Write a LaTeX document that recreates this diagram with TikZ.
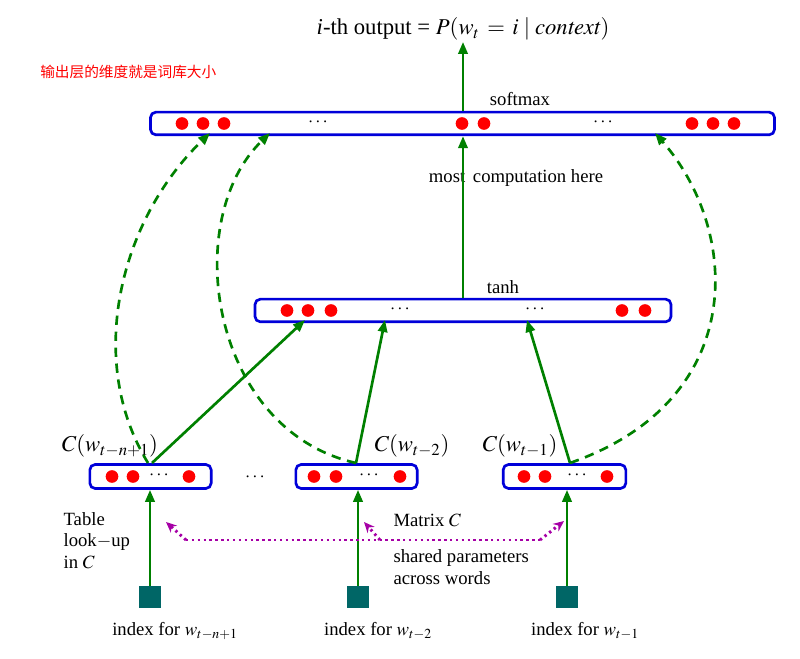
\documentclass[tikz,border=0pt]{standalone}
\usepackage{mathptmx}
\usepackage{fontspec}
\setmainfont{Liberation Serif}
\newfontfamily\cjk{Noto Sans CJK SC}
\usetikzlibrary{arrows.meta}
\begin{document}
\begin{tikzpicture}[x=0.75pt,y=-0.75pt,
 bar/.style={draw=blue!85!black,line width=2pt,rounded corners=4pt,fill=white},
 dot/.style={circle,fill=red,inner sep=0pt,minimum size=9.5pt},
 ga/.style={draw=green!50!black,line width=2pt,-{Triangle[length=9pt,width=7pt]}},
 gd/.style={ga,dash pattern=on 7pt off 5pt},
 pd/.style={draw=violet!70!magenta,line width=2.2pt,dash pattern=on 1.8pt off 2.6pt},
 sq/.style={fill=teal!80!black,minimum size=16pt,inner sep=0pt},
 lab/.style={font=\fontsize{14}{16}\selectfont,inner sep=1pt}]
\useasboundingbox (0,0) rectangle (800,659);
% bars
\node[bar,minimum width=468pt,minimum height=17pt] (top) at (462.5,123.5) {};
\node[bar,minimum width=312pt,minimum height=17pt] (mid) at (463,310.5) {};
\node[bar,minimum width=91pt,minimum height=18pt] (b1) at (150.5,476.5) {};
\node[bar,minimum width=91pt,minimum height=18pt] (b2) at (356.5,476.5) {};
\node[bar,minimum width=92pt,minimum height=18pt] (b3) at (564.5,476.5) {};
% dots top
\foreach \x/\n in {182/t1,203/t2,224/t3,462/t4,484/t5,692/t6,713/t7,734/t8} \node[dot] (\n) at (\x,123.5) {};
\node[lab] (td1) at (318,122) {$\cdots$};
\node[lab] (td2) at (603,122) {$\cdots$};
\foreach \x/\n in {287/m1,308/m2,331/m3,622/m4,645/m5} \node[dot] (\n) at (\x,310.5) {};
\node[lab] (md1) at (400,309) {$\cdots$};
\node[lab] (md2) at (535,309) {$\cdots$};
\foreach \x/\n in {112/a1,133/a2,189/a3,314/a4,336/a5,400/a6,524/a7,545/a8,607/a9} \node[dot] (\n) at (\x,476.5) {};
\node[lab] (bd1) at (159,475) {$\cdots$};
\node[lab] (bd2) at (369,475) {$\cdots$};
\node[lab] (bd3) at (577,475) {$\cdots$};
\node[lab] (bd4) at (255,477) {$\cdots$};
% labels
\node[lab,font=\fontsize{17}{19}\selectfont] (out) at (463,29) {\textit{i}-th output = $P(w_t\,=\,i\mid \mathit{context})$};
\node[inner sep=0pt,text=red,font=\cjk\fontsize{11}{13}\selectfont,anchor=west] (cn) at (40,72) {输出层的维度就是词库大小};
\node[lab] (sm) at (520,99) {softmax};
\node[lab,fill=white] (mc) at (516,178) {most\, computation here};
\node[lab] (th) at (503,287) {tanh};
\node[lab,font=\fontsize{17}{19}\selectfont] (c1) at (110,446) {$C(w_{t-n+1})$};
\node[lab,font=\fontsize{17}{19}\selectfont] (c2) at (412,446) {$C(w_{t-2})$};
\node[lab,font=\fontsize{17}{19}\selectfont] (c3) at (520,446) {$C(w_{t-1})$};
\node[lab,align=left,anchor=north west] (tl) at (62,511) {Table\\ look$-$up\\ in $C$};
\node[lab,anchor=west] (mx) at (392,520) {Matrix $C$};
\node[lab,align=left,anchor=west] (sp) at (392,567) {shared parameters\\across words};
\node[sq] (s1) at (150,597) {};
\node[sq] (s2) at (358,597) {};
\node[sq] (s3) at (567,597) {};
\node[lab] (i1) at (175,631) {index for $w_{t-n+1}$};
\node[lab] (i2) at (378,631) {index for $w_{t-2}$};
\node[lab] (i3) at (585,631) {index for $w_{t-1}$};
% arrows
\draw[ga] (s1.north) -- (b1.south -| s1);
\draw[ga] (s2.north) -- (b2.south -| s2);
\draw[ga] (s3.north) -- (b3.south -| s3);
\draw[ga] (152,463) -- (305,320);
\draw[ga] (356,463) -- (385,320);
\draw[ga] (570,463) -- (527,320);
\draw[ga] (mid.north) -- (top.south -| mid.north);
\draw[ga] (top.north -| out.south) -- (out.south);
\draw[gd] (148,463) .. controls (85,360) and (120,220) .. (210,133);
\draw[gd] (356,463) .. controls (210,430) and (180,220) .. (270,133);
\draw[gd] (570,463) .. controls (750,400) and (740,230) .. (655,133);
% purple dotted
\coordinate (p1) at (186,540);
\coordinate (p2) at (380,540);
\coordinate (p3) at (540,540);
\draw[pd] (p1) -- (p3);
\draw[pd,-{Stealth[length=8pt,width=7pt]}] (p1) -- (166,522);
\draw[pd,-{Stealth[length=8pt,width=7pt]}] (p2) -- (364,522);
\draw[pd,-{Stealth[length=8pt,width=7pt]}] (p3) -- (564,521);
\end{tikzpicture}
\end{document}
